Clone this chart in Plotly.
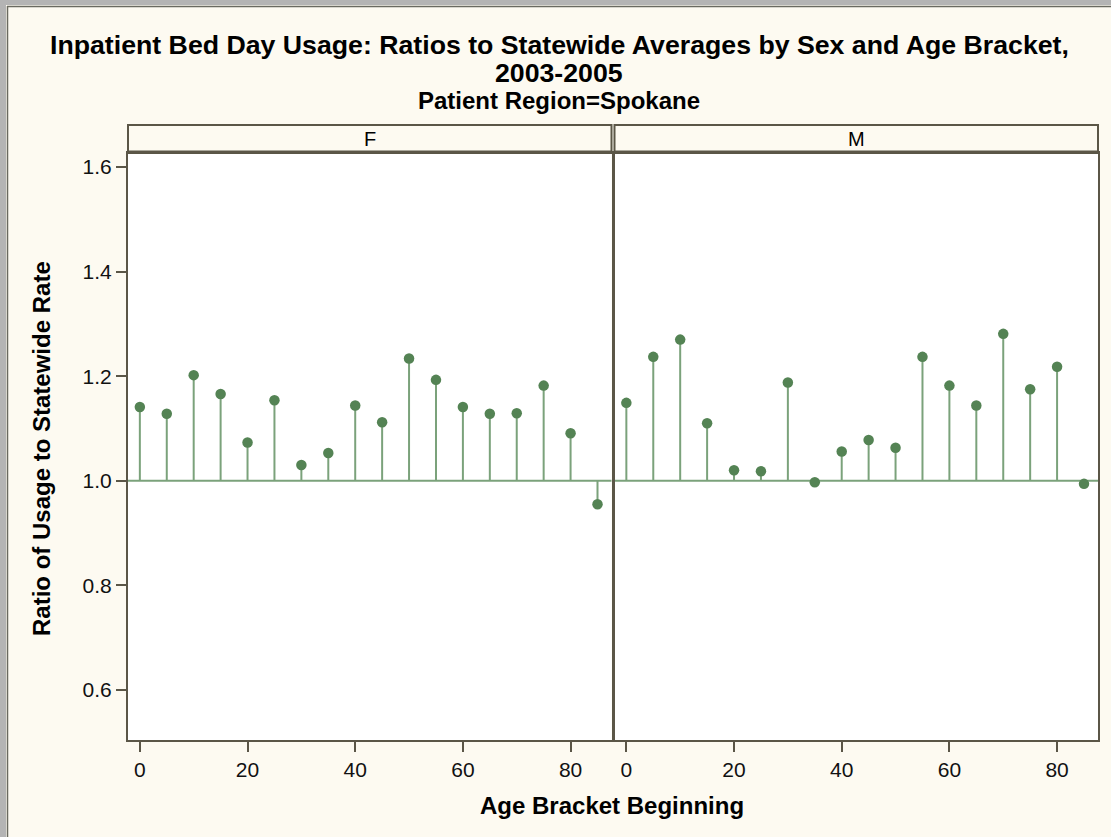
import plotly.graph_objects as go

ages = [0, 5, 10, 15, 20, 25, 30, 35, 40, 45, 50, 55, 60, 65, 70, 75, 80, 85]
ratio_f = [1.141, 1.128, 1.202, 1.166, 1.073, 1.154, 1.030, 1.053, 1.144, 1.112,
           1.234, 1.193, 1.141, 1.128, 1.129, 1.182, 1.091, 0.955]
ratio_m = [1.149, 1.237, 1.270, 1.110, 1.020, 1.018, 1.188, 0.997, 1.056, 1.078,
           1.063, 1.237, 1.182, 1.144, 1.281, 1.175, 1.218, 0.994]
panels = ["F", "M"]
x_ticks = [0, 20, 40, 60, 80]
y_ticks = [0.6, 0.8, 1.0, 1.2, 1.4, 1.6]
baseline = 1.0

MARKER = "#548354"
STEM = "#7ba27b"
FRAME = "#5b5647"
BG = "#fdfaf1"
FONT = "Liberation Sans, Arial, sans-serif"

W, H = 1111, 837
ML, MR, MT, MB = 128, 13, 153, 97
PW, PH = W - ML - MR, H - MT - MB


def px(x):
    return (x - ML) / PW


def py(y):
    return (H - MB - y) / PH


fig = go.Figure()

for i, (name, vals) in enumerate(zip(panels, [ratio_f, ratio_m])):
    xa = "x" if i == 0 else "x2"
    ya = "y" if i == 0 else "y2"
    sx, sy = [], []
    for a, v in zip(ages, vals):
        sx += [a, a, None]
        sy += [baseline, v, None]
    fig.add_trace(go.Scatter(x=sx, y=sy, mode="lines", line=dict(color=STEM, width=2),
                             xaxis=xa, yaxis=ya, showlegend=False, hoverinfo="skip"))
    fig.add_trace(go.Scatter(x=ages, y=vals, mode="markers",
                             marker=dict(color=MARKER, size=10.5),
                             xaxis=xa, yaxis=ya, showlegend=False, name=name))
    fig.add_shape(type="line", xref=f"{xa} domain", yref=ya, x0=0, x1=1,
                  y0=baseline, y1=baseline, line=dict(color=STEM, width=2), layer="below")

xrange = [-2.2, 87.6]
yrange = [0.504, 1.627]
axis_common = dict(showgrid=False, zeroline=False, showline=True, linecolor=FRAME,
                   linewidth=2, mirror=True, ticks="outside", tickcolor=FRAME,
                   tickwidth=1.5, ticklen=10,
                   tickfont=dict(family=FONT, size=21, color="#111111"))

dom_f = (0, px(611.5))
dom_m = (px(614.5), 1)

fig.update_layout(
    width=W, height=H,
    paper_bgcolor=BG, plot_bgcolor="#ffffff",
    margin=dict(l=ML, r=MR, t=MT, b=MB),
    font=dict(family=FONT, color="#000000"),
    xaxis=dict(domain=list(dom_f), range=xrange, tickvals=x_ticks, **axis_common),
    xaxis2=dict(domain=list(dom_m), range=xrange, tickvals=x_ticks, **axis_common),
    yaxis=dict(range=yrange, tickvals=y_ticks, ticktext=[f"{v:.1f}" for v in y_ticks],
               **axis_common),
    yaxis2=dict(range=yrange, anchor="x2", matches="y", showticklabels=False, ticks="",
                showgrid=False, zeroline=False, showline=True, linecolor=FRAME,
                linewidth=2, mirror=True),
)

# titles
for text, ycen, size in [
    ("<b>Inpatient Bed Day Usage: Ratios to Statewide Averages by Sex and Age Bracket,</b>", 45, 26.7),
    ("<b>2003-2005</b>", 73, 26.7),
    ("<b>Patient Region=Spokane</b>", 101, 24),
]:
    fig.add_annotation(text=text, xref="paper", yref="paper", x=px(559), y=py(ycen),
                       xanchor="center", yanchor="middle", showarrow=False,
                       font=dict(family=FONT, size=size, color="#000000"))

fig.add_annotation(text="<b>Age Bracket Beginning</b>", xref="paper", yref="paper",
                   x=px(612), y=py(805), xanchor="center", yanchor="middle", showarrow=False,
                   font=dict(family=FONT, size=24, color="#000000"))
fig.add_annotation(text="<b>Ratio of Usage to Statewide Rate</b>", xref="paper", yref="paper",
                   x=px(42), y=py(449), xanchor="center", yanchor="middle", showarrow=False,
                   textangle=-90, font=dict(family=FONT, size=24, color="#000000"))

# strip headers
strip_top = py(125)
for dom, name in [(dom_f, "F"), (dom_m, "M")]:
    fig.add_shape(type="rect", xref="paper", yref="paper", x0=dom[0], x1=dom[1],
                  y0=1.0, y1=strip_top, fillcolor=BG, line=dict(color=FRAME, width=2))
    fig.add_shape(type="line", xref="paper", yref="paper", x0=dom[0], x1=dom[1],
                  y0=py(152), y1=py(152), line=dict(color=FRAME, width=3))
    fig.add_annotation(text=name, xref="paper", yref="paper", x=(dom[0] + dom[1]) / 2,
                       y=py(139), xanchor="center", yanchor="middle",
                       showarrow=False, font=dict(family=FONT, size=20, color="#000000"))

# outer frame (top and left edge)
fig.add_shape(type="rect", xref="paper", yref="paper", x0=px(0), x1=px(W), y0=py(0), y1=py(5),
              fillcolor="#b4b4b4", line=dict(width=0))
fig.add_shape(type="rect", xref="paper", yref="paper", x0=px(0), x1=px(6), y0=py(0), y1=py(H),
              fillcolor="#b4b4b4", line=dict(width=0))
fig.add_shape(type="line", xref="paper", yref="paper", x0=px(7), x1=px(W), y0=py(6.5), y1=py(6.5),
              line=dict(color="#6a6a60", width=1.5))
fig.add_shape(type="line", xref="paper", yref="paper", x0=px(7.5), x1=px(7.5), y0=py(6), y1=py(H),
              line=dict(color="#6a6a60", width=1.5))

fig.write_html("out.html", config={"displayModeBar": False},
               post_script="document.body.style.margin='0';document.body.style.overflow='hidden';")
